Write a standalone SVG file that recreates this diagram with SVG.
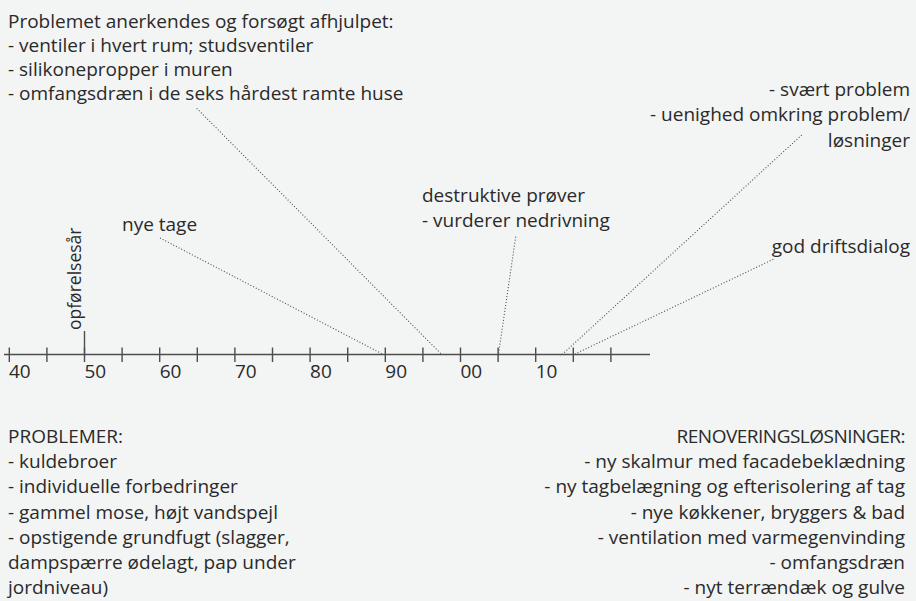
<svg xmlns="http://www.w3.org/2000/svg" width="916" height="601" viewBox="0 0 916 601">
  <style>
    text { font-family: "Open Sans", "Noto Sans", "Liberation Sans", sans-serif; font-size: 19px; fill: #2a2a2a; }
    .r { text-anchor: end; }
    .axis { stroke: #4d4d4d; stroke-width: 1.4; fill: none; }
    .lead { stroke: #4a4a4a; stroke-width: 1.1; stroke-dasharray: 1 2; fill: none; }
  </style>
  <rect x="0" y="0" width="916" height="601" fill="#f3f4f4"/>

  <g id="timeline">
    <line class="axis" x1="4" y1="354.5" x2="650" y2="354.5"/>
    <path class="axis" d="M9.3 347.5V362 M46.9 347.5V362 M84.5 347.5V362 M122.1 347.5V362 M159.7 347.5V362 M197.3 347.5V362 M234.9 347.5V362 M272.5 347.5V362 M310.1 347.5V362 M347.7 347.5V362 M385.3 347.5V362 M422.9 347.5V362 M460.5 347.5V362 M498.1 347.5V362 M535.7 347.5V362 M573.3 347.5V362 M610.9 347.5V362"/>
    <g id="year-labels">
      <text x="9" y="377.7">40</text>
      <text x="84.5" y="377.7">50</text>
      <text x="159.7" y="377.7">60</text>
      <text x="234.9" y="377.7">70</text>
      <text x="310.1" y="377.7">80</text>
      <text x="385.3" y="377.7">90</text>
      <text x="460.5" y="377.7">00</text>
      <text x="535.7" y="377.7">10</text>
    </g>
  </g>

  <g id="connectors">
    <line class="axis" x1="84.5" y1="331" x2="84.5" y2="354.5"/>
    <line class="lead" x1="196.7" y1="108.3" x2="441.7" y2="354.5"/>
    <line class="lead" x1="160" y1="238" x2="383.3" y2="354.5"/>
    <line class="lead" x1="515.7" y1="236.7" x2="498.5" y2="354"/>
    <line class="lead" x1="801.7" y1="135" x2="560.5" y2="356"/>
    <line class="lead" x1="773.3" y1="259.3" x2="575" y2="354"/>
  </g>

  <g id="node-construction">
    <text transform="translate(81,330) rotate(-90)" style="font-size:17.5px">opførelsesår</text>
  </g>

  <g id="node-tage">
    <text x="122" y="231">nye tage</text>
  </g>

  <g id="node-problem-recognized">
    <text x="8" y="28.3">Problemet anerkendes og forsøgt afhjulpet:</text>
    <text x="8" y="52.1">- ventiler i hvert rum; studsventiler</text>
    <text x="8" y="75.9">- silikonepropper i muren</text>
    <text x="8" y="99.7">- omfangsdræn i de seks hårdest ramte huse</text>
  </g>

  <g id="node-destruktive">
    <text x="422" y="201.7">destruktive prøver</text>
    <text x="422" y="226.7">- vurderer nedrivning</text>
  </g>

  <g id="node-svaert">
    <text class="r" x="910" y="95.5">- svært problem</text>
    <text class="r" x="910" y="121">- uenighed omkring problem/</text>
    <text class="r" x="910" y="146.5">løsninger</text>
  </g>

  <g id="node-drift">
    <text class="r" x="910" y="253.3">god driftsdialog</text>
  </g>

  <g id="node-problemer">
    <text x="8" y="443">PROBLEMER:</text>
    <text x="8" y="468.2">- kuldebroer</text>
    <text x="8" y="493.4">- individuelle forbedringer</text>
    <text x="8" y="518.6">- gammel mose, højt vandspejl</text>
    <text x="8" y="543.8">- opstigende grundfugt (slagger,</text>
    <text x="8" y="569">dampspærre ødelagt, pap under</text>
    <text x="8" y="594.2">jordniveau)</text>
  </g>

  <g id="node-renovering">
    <text class="r" x="905" y="443" style="letter-spacing:-0.5px">RENOVERINGSLØSNINGER:</text>
    <text class="r" x="905" y="468.2">- ny skalmur med facadebeklædning</text>
    <text class="r" x="905" y="493.4">- ny tagbelægning og efterisolering af tag</text>
    <text class="r" x="905" y="518.6">- nye køkkener, bryggers &amp; bad</text>
    <text class="r" x="905" y="543.8">- ventilation med varmegenvinding</text>
    <text class="r" x="905" y="569">- omfangsdræn</text>
    <text class="r" x="905" y="594.2">- nyt terrændæk og gulve</text>
  </g>
</svg>
